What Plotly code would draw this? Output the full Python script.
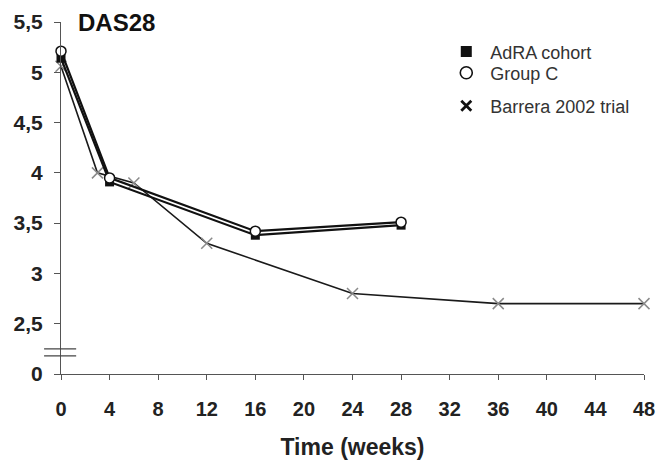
import plotly.graph_objects as go

# Data
adra_weeks = [0, 4, 16, 28]
adra_das = [5.14, 3.91, 3.38, 3.48]
groupc_weeks = [0, 4, 16, 28]
groupc_das = [5.21, 3.95, 3.42, 3.51]
barrera_weeks = [0, 3, 6, 12, 24, 36, 48]
barrera_das = [5.06, 4.0, 3.9, 3.3, 2.8, 2.7, 2.7]

x_ticks = list(range(0, 49, 4))
y_tickvals = [2.0, 2.5, 3.0, 3.5, 4.0, 4.5, 5.0, 5.5]
y_ticktext = ["0", "2,5", "3", "3,5", "4", "4,5", "5", "5,5"]

FONT = "Liberation Sans, Arial, sans-serif"

fig = go.Figure()

fig.add_trace(go.Scatter(
    x=barrera_weeks, y=barrera_das, mode="lines+markers",
    line=dict(color="#1a1a1a", width=1.6),
    marker=dict(symbol="x-thin-open", size=11, line=dict(color="#8a8a8a", width=1.5), color="#8a8a8a"),
    showlegend=False, cliponaxis=False))
fig.add_trace(go.Scatter(
    x=adra_weeks, y=adra_das, mode="lines+markers",
    line=dict(color="#111111", width=2.2),
    marker=dict(symbol="square", size=9, color="#111111"),
    showlegend=False, cliponaxis=False))
fig.add_trace(go.Scatter(
    x=groupc_weeks, y=groupc_das, mode="lines+markers",
    line=dict(color="#111111", width=2.2),
    marker=dict(symbol="circle", size=10, color="white", line=dict(color="#111111", width=1.5)),
    showlegend=False, cliponaxis=False))

# legend-only entries (markers only), one small legend each
fig.add_trace(go.Scatter(x=[None], y=[None], mode="markers", name="AdRA cohort", legend="legend",
                         marker=dict(symbol="square", size=11, color="#111111")))
fig.add_trace(go.Scatter(x=[None], y=[None], mode="markers", name="Group C", legend="legend2",
                         marker=dict(symbol="circle-open", size=12, color="#111111", line=dict(width=1.6))))
fig.add_trace(go.Scatter(x=[None], y=[None], mode="markers", name="Barrera 2002 trial", legend="legend3",
                         marker=dict(symbol="x-thin-open", size=10, color="#111111", line=dict(width=2.8))))

# axis break marks
for yb in (2.25, 2.18):
    fig.add_shape(type="line", xref="paper", yref="y", x0=-0.029, x1=0.026, y0=yb, y1=yb,
                  line=dict(color="#444444", width=1.3))

fig.add_annotation(text="<b>DAS28</b>", xref="paper", yref="paper", x=0.025, y=1.0,
                   xanchor="left", yanchor="middle", showarrow=False,
                   font=dict(family=FONT, size=24, color="#111111"))

leg_common = dict(x=0.654, xanchor="left", yanchor="middle",
                  font=dict(family=FONT, size=18, color="#333333"),
                  bgcolor="rgba(0,0,0,0)", itemwidth=38)

fig.update_layout(
    width=659, height=460,
    margin=dict(l=61, r=15, t=22, b=86, autoexpand=False),
    paper_bgcolor="white", plot_bgcolor="white",
    font=dict(family=FONT, color="#111111"),
    legend=dict(y=0.915, **leg_common),
    legend2=dict(y=0.855, **leg_common),
    legend3=dict(y=0.761, **leg_common),
    xaxis=dict(range=[0, 48], tickvals=x_ticks, ticks="outside", ticklen=5, tickwidth=1.2,
               tickcolor="#555555", showline=True, linecolor="#555555", linewidth=1.2,
               showgrid=False, zeroline=False, ticklabelstandoff=12,
               tickfont=dict(family=FONT, size=20, weight="bold", color="#222222"),
               title=dict(text="Time (weeks)", font=dict(family=FONT, size=23, weight="bold", color="#222222"),
                          standoff=19)),
    yaxis=dict(range=[2.0, 5.5], tickvals=y_tickvals, ticktext=y_ticktext, ticks="outside",
               ticklen=6, tickwidth=1.2, tickcolor="#555555", showline=True, linecolor="#555555",
               linewidth=1.2, showgrid=False, zeroline=False, ticklabelstandoff=7,
               tickfont=dict(family=FONT, size=21, weight="bold", color="#222222")),
)

fig.write_html("out.html", config={"displayModeBar": False},
               post_script="document.body.style.margin='0';")
